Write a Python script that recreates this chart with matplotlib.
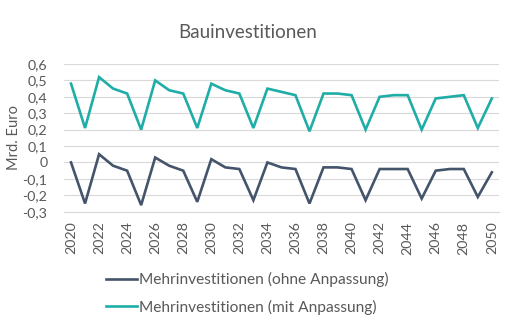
import matplotlib
matplotlib.use("Agg")
import matplotlib.pyplot as plt
from matplotlib.ticker import FixedLocator, FuncFormatter

plt.rcParams['font.family'] = ['Lato', 'DejaVu Sans']

years = list(range(2020, 2051))

ohne_anpassung = [0.00, -0.25, 0.05, -0.02, -0.05, -0.26, 0.03, -0.02, -0.05, -0.24,
                  0.02, -0.03, -0.04, -0.23, 0.00, -0.03, -0.04, -0.25, -0.03, -0.03,
                  -0.04, -0.23, -0.04, -0.04, -0.04, -0.22, -0.05, -0.04, -0.04, -0.21,
                  -0.06]

mit_anpassung = [0.48, 0.21, 0.52, 0.45, 0.42, 0.20, 0.50, 0.44, 0.42, 0.21,
                 0.48, 0.44, 0.42, 0.21, 0.45, 0.43, 0.41, 0.19, 0.42, 0.42,
                 0.41, 0.20, 0.40, 0.41, 0.41, 0.20, 0.39, 0.40, 0.41, 0.21,
                 0.39]

series_labels = ["Mehrinvestitionen (ohne Anpassung)", "Mehrinvestitionen (mit Anpassung)"]
y_ticks = [-0.3, -0.2, -0.1, 0.0, 0.1, 0.2, 0.3, 0.4, 0.5, 0.6]
x_tick_years = list(range(2020, 2051, 2))

dark = "#44546A"
teal = "#1FADA7"
text_grey = "#595959"
grid_grey = "#D9D9D9"

fig = plt.figure(figsize=(5.29, 3.30), dpi=100)
ax = fig.add_axes([0.121, 0.3585, 0.822, 0.4476])

ax.plot(years, ohne_anpassung, color=dark, lw=1.9, label=series_labels[0], solid_joinstyle='miter')
ax.plot(years, mit_anpassung, color=teal, lw=1.9, label=series_labels[1], solid_joinstyle='miter')

ax.set_xlim(years[0] - 0.5, years[-1] + 0.5)
ax.set_ylim(-0.3, 0.6)
ax.yaxis.set_major_locator(FixedLocator(y_ticks))


def fmt(v, pos):
    v = round(v, 1)
    if abs(v) < 1e-9:
        return "0"
    return f"{v:.1f}".replace(".", ",")


ax.yaxis.set_major_formatter(FuncFormatter(fmt))
ax.set_xticks(x_tick_years)
ax.set_xticklabels([str(y) for y in x_tick_years], rotation=90)

ax.grid(axis='y', color=grid_grey, lw=0.8)
ax.set_axisbelow(True)
for s in ['top', 'right', 'left']:
    ax.spines[s].set_visible(False)
ax.spines['bottom'].set_color(grid_grey)
ax.spines['bottom'].set_linewidth(0.8)
ax.tick_params(axis='both', length=0, colors=text_grey, labelsize=10.3)
ax.tick_params(axis='x', pad=7)
ax.tick_params(axis='y', pad=12)

ax.set_ylabel("Mrd. Euro", color=text_grey, fontsize=10.5)
ax.yaxis.set_label_coords(-0.1, 0.5)

fig.text(0.468, 0.9, "Bauinvestitionen", ha='center', va='center', fontsize=13.5, color=text_grey)

leg = fig.legend(loc='center left', bbox_to_anchor=(0.2, 0.1106), frameon=False,
                 fontsize=11.2, handlelength=2.0, handletextpad=0.13, labelspacing=0.82,
                 borderaxespad=0, borderpad=0)
for t in leg.get_texts():
    t.set_color(text_grey)

fig.savefig("out.png", dpi=100)
